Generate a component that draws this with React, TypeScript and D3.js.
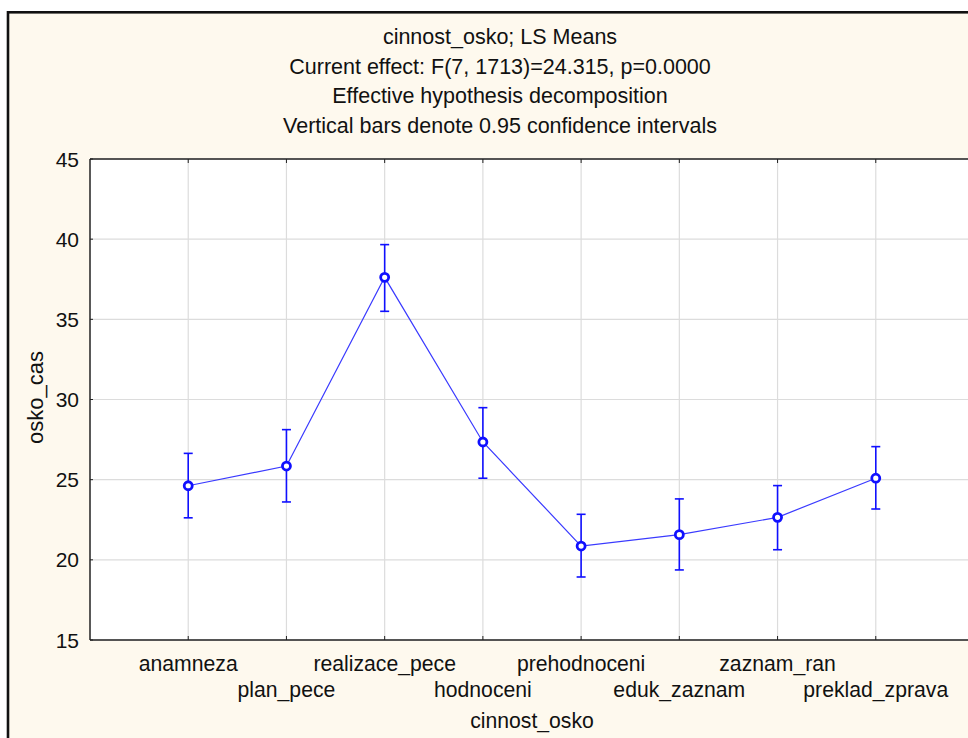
import React from "react";
import * as d3 from "d3";

const categories = ["anamneza", "plan_pece", "realizace_pece", "hodnoceni", "prehodnoceni", "eduk_zaznam", "zaznam_ran", "preklad_zprava"];
const means = [24.62, 25.85, 37.62, 27.35, 20.86, 21.57, 22.65, 25.09];
const upper = [26.64, 28.12, 39.66, 29.49, 22.84, 23.8, 24.63, 27.06];
const lower = [22.62, 23.61, 35.5, 25.09, 18.93, 19.37, 20.63, 23.17];
const yTicks = [15, 20, 25, 30, 35, 40, 45];
const titleLines = [
  "cinnost_osko; LS Means",
  "Current effect: F(7, 1713)=24.315, p=0.0000",
  "Effective hypothesis decomposition",
  "Vertical bars denote 0.95 confidence intervals",
];
const xTitle = "cinnost_osko";
const yTitle = "osko_cas";

const W = 968;
const H = 738;
const left = 90;
const top = 159;
const bottom = 640;
const right = 974;
const font = "'Liberation Sans', Arial, sans-serif";
const blue = "#1010ff";

export default function App() {
  const x = d3
    .scalePoint<string>()
    .domain(categories)
    .range([left, right])
    .padding(1);
  const y = d3.scaleLinear().domain([15, 45]).range([bottom, top]);
  const line = d3
    .line<number>()
    .x((_, i) => x(categories[i]) as number)
    .y((d) => y(d));

  return (
    <svg
      width={W}
      height={H}
      style={{ position: "absolute", left: 0, top: 0, display: "block" }}
    >
      <rect x={0} y={0} width={W} height={H} fill="#ffffff" />
      <rect x={8} y={12.3} width={W + 40} height={H + 40} fill="#fef9ee" stroke="#111" strokeWidth={2.6} />
      {titleLines.map((t, i) => (
        <text key={i} x={500} y={44 + i * 29.6} textAnchor="middle" fontFamily={font} fontSize={21.5} fill="#111">
          {t}
        </text>
      ))}
      <rect x={left} y={top} width={right - left} height={bottom - top} fill="#ffffff" />
      {/* grid */}
      {yTicks.map((t) => (
        <line key={"gy" + t} x1={left} x2={right} y1={y(t)} y2={y(t)} stroke="#dcdcdc" strokeWidth={1.2} />
      ))}
      {categories.map((c) => (
        <line key={"gx" + c} x1={x(c)} x2={x(c)} y1={top} y2={bottom} stroke="#dcdcdc" strokeWidth={1.2} />
      ))}
      {/* frame */}
      <line x1={left} x2={right} y1={top} y2={top} stroke="#222" strokeWidth={1.5} />
      <line x1={left} x2={right} y1={bottom} y2={bottom} stroke="#222" strokeWidth={1.5} />
      <line x1={left} x2={left} y1={top} y2={bottom} stroke="#222" strokeWidth={1.5} />
      {/* ticks */}
      {yTicks.map((t) => (
        <g key={"ty" + t}>
          <line x1={left} x2={left + 3} y1={y(t)} y2={y(t)} stroke="#222" strokeWidth={1} />
          <text x={79} y={y(t)} dy="0.36em" textAnchor="end" fontFamily={font} fontSize={21} fill="#111">
            {t}
          </text>
        </g>
      ))}
      {categories.map((c, i) => (
        <g key={"tx" + c}>
          <line x1={x(c)} x2={x(c)} y1={top} y2={top + 4} stroke="#222" strokeWidth={1} />
          <line x1={x(c)} x2={x(c)} y1={bottom} y2={bottom - 4} stroke="#222" strokeWidth={1} />
          <text x={x(c)} y={i % 2 === 0 ? 670.5 : 696.5} textAnchor="middle" fontFamily={font} fontSize={21.2} fill="#111">
            {c}
          </text>
        </g>
      ))}
      <text x={(left + right) / 2} y={727.5} textAnchor="middle" fontFamily={font} fontSize={21.2} fill="#111">
        {xTitle}
      </text>
      <text
        transform={`translate(43, ${(top + bottom) / 2 - 2}) rotate(-90)`}
        textAnchor="middle"
        fontFamily={font}
        fontSize={22}
        fill="#111"
      >
        {yTitle}
      </text>
      {/* series */}
      <path d={line(means) || ""} fill="none" stroke="#3a3aff" strokeWidth={1.2} />
      {categories.map((c, i) => {
        const cx = x(c) as number;
        return (
          <g key={"eb" + c} stroke={blue} strokeWidth={1.6}>
            <line x1={cx} x2={cx} y1={y(upper[i])} y2={y(lower[i])} />
            <line x1={cx - 4.5} x2={cx + 4.5} y1={y(upper[i])} y2={y(upper[i])} />
            <line x1={cx - 4.5} x2={cx + 4.5} y1={y(lower[i])} y2={y(lower[i])} />
          </g>
        );
      })}
      {categories.map((c, i) => (
        <circle key={"pt" + c} cx={x(c)} cy={y(means[i])} r={4} fill="#ffffff" stroke={blue} strokeWidth={2.8} />
      ))}
    </svg>
  );
}
